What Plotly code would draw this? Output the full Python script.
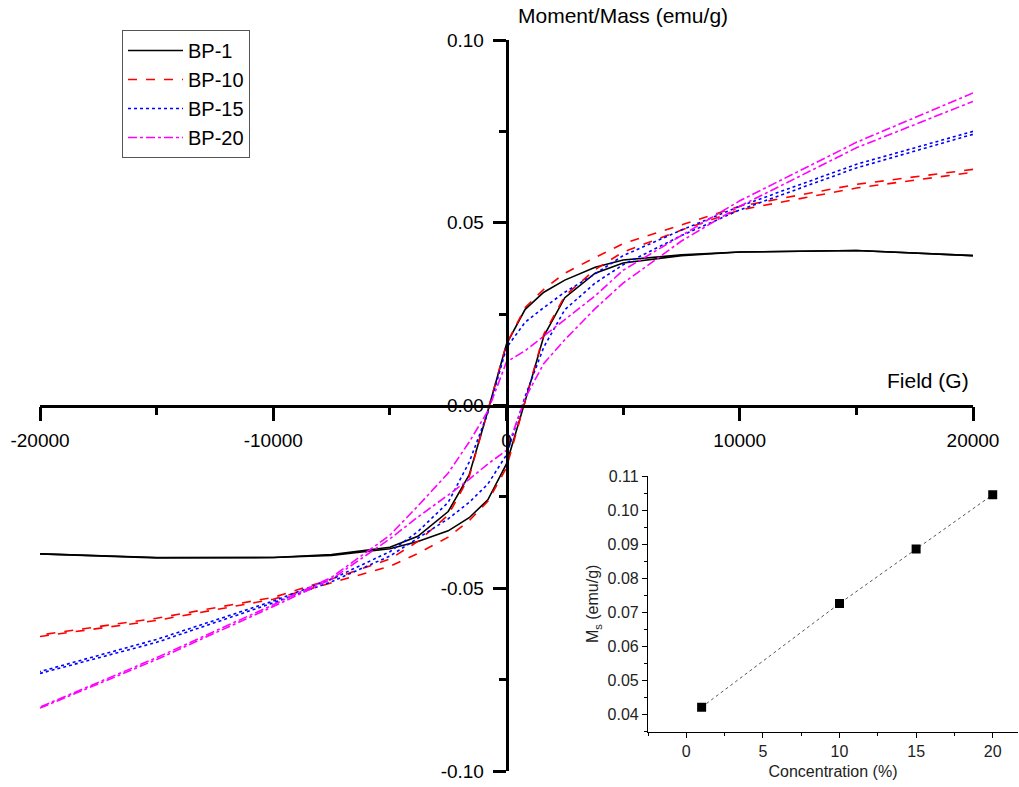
import plotly.graph_objects as go

# ---------------- data ----------------
field_desc = [20000, 15000, 10000, 7500, 5000, 3800, 2500, 1600, 800, 0,
              -800, -1600, -2500, -3800, -5000, -7500, -10000, -15000, -20000]
field_asc = [-20000, -15000, -10000, -7500, -5000, -3800, -2500, -1600, -800, 0,
             800, 1600, 2500, 3800, 5000, 7500, 10000, 15000, 20000]

bp1_desc = [0.0410, 0.0424, 0.0420, 0.0412, 0.0398, 0.0378, 0.0343, 0.0310, 0.0263, 0.0168,
            -0.0015, -0.0190, -0.0290, -0.0358, -0.0388, -0.0408, -0.0416, -0.0417, -0.0406]
bp1_asc = [-0.0406, -0.0416, -0.0416, -0.0410, -0.0392, -0.0372, -0.0343, -0.0307, -0.0258, -0.0160,
           0.0012, 0.0190, 0.0295, 0.0362, 0.0390, 0.0410, 0.0420, 0.0424, 0.0410]

bp10_desc = [0.0646, 0.0605, 0.0545, 0.0495, 0.0443, 0.0405, 0.0362, 0.0318, 0.0268, 0.0168,
             -0.0015, -0.0195, -0.0300, -0.0372, -0.0420, -0.0475, -0.0525, -0.0582, -0.0628]
bp10_asc = [-0.0632, -0.0588, -0.0530, -0.0485, -0.0440, -0.0405, -0.0360, -0.0315, -0.0262, -0.0170,
            0.0012, 0.0195, 0.0300, 0.0372, 0.0420, 0.0480, 0.0535, 0.0595, 0.0638]

bp15_desc = [0.0750, 0.0660, 0.0545, 0.0480, 0.0410, 0.0360, 0.0310, 0.0268, 0.0228, 0.0158,
             -0.0020, -0.0155, -0.0265, -0.0345, -0.0400, -0.0475, -0.0535, -0.0640, -0.0728]
bp15_asc = [-0.0733, -0.0648, -0.0540, -0.0482, -0.0412, -0.0362, -0.0310, -0.0265, -0.0215, -0.0135,
            0.0025, 0.0160, 0.0262, 0.0335, 0.0385, 0.0465, 0.0535, 0.0650, 0.0742]

bp20_desc = [0.0855, 0.0720, 0.0560, 0.0465, 0.0370, 0.0300, 0.0235, 0.0190, 0.0150, 0.0119,
             -0.0015, -0.0100, -0.0185, -0.0275, -0.0355, -0.0470, -0.0545, -0.0690, -0.0825]
bp20_asc = [-0.0828, -0.0695, -0.0550, -0.0475, -0.0365, -0.0305, -0.0245, -0.0202, -0.0160, -0.0123,
            0.0020, 0.0115, 0.0180, 0.0265, 0.0335, 0.0450, 0.0545, 0.0705, 0.0832]

series_names = ["BP-1", "BP-10", "BP-15", "BP-20"]
series_desc = [bp1_desc, bp10_desc, bp15_desc, bp20_desc]
series_asc = [bp1_asc, bp10_asc, bp15_asc, bp20_asc]
series_colors = ["#000000", "#ff0000", "#0000ff", "#ff00ff"]
series_dash = ["solid", "dash", "dot", "dashdot"]

conc = [1, 10, 15, 20]
ms = [0.0420, 0.0725, 0.0885, 0.1045]

main_ytick_vals = [-0.10, -0.05, 0.00, 0.05, 0.10]
main_ytick_text = ["-0.10", "-0.05", "0.00", "0.05", "0.10"]
main_xtick_vals = [-20000, -10000, 0, 10000, 20000]
main_xtick_text = ["-20000", "-10000", "0", "10000", "20000"]
inset_ytick_vals = [0.04, 0.05, 0.06, 0.07, 0.08, 0.09, 0.10, 0.11]
inset_ytick_text = ["0.04", "0.05", "0.06", "0.07", "0.08", "0.09", "0.10", "0.11"]
inset_xtick_vals = [0, 5, 10, 15, 20]

# ---------------- figure ----------------
FONT = "Arial, Liberation Sans, sans-serif"
fig = go.Figure()

for name, d, a, c, ds in zip(series_names, series_desc, series_asc, series_colors, series_dash):
    xs = field_desc + [None] + field_asc
    ys = d + [None] + a
    fig.add_trace(go.Scatter(x=xs, y=ys, mode="lines", name=name,
                             line=dict(color=c, dash=ds, width=1.6),
                             connectgaps=False, xaxis="x", yaxis="y"))

fig.add_trace(go.Scatter(x=conc, y=ms, mode="lines+markers", showlegend=False,
                         line=dict(color="#555555", dash="dot", width=1),
                         marker=dict(symbol="square", size=9, color="black"),
                         xaxis="x2", yaxis="y2"))

W, H = 1019, 787
ml, mr, mt, mb = 40, 0, 40, 16
pw = W - ml - mr
ph = H - mt - mb

def px_x(p):
    return (p - ml) / pw

def px_y(p):
    return (H - mb - p) / ph

fig.update_layout(
    width=W, height=H,
    margin=dict(l=ml, r=mr, t=mt, b=mb, autoexpand=False),
    plot_bgcolor="white", paper_bgcolor="white",
    font=dict(family=FONT, color="black"),
    showlegend=True,
    legend=dict(x=px_x(122), y=px_y(30), xanchor="left", yanchor="top",
                bordercolor="#555555", borderwidth=1, bgcolor="white",
                font=dict(size=20, family=FONT), itemwidth=55,
                tracegroupgap=0),
    xaxis=dict(domain=[0, px_x(973)], range=[-20000, 20000], anchor="free",
               position=0.5, showline=True, linecolor="black", linewidth=2.5,
               showgrid=False, zeroline=False, automargin=False,
               ticks="outside", ticklen=14, tickwidth=2.5, tickcolor="black",
               ticklabelstandoff=3,
               tickvals=main_xtick_vals, ticktext=main_xtick_text,
               tickfont=dict(size=19, family=FONT),
               minor=dict(ticks="outside", dtick=5000, ticklen=8, tickwidth=2.5,
                          tickcolor="black", showgrid=False)),
    yaxis=dict(domain=[0, 1], range=[-0.1, 0.1], anchor="free",
               position=px_x(506.5), showline=True, linecolor="black", linewidth=2.5,
               showgrid=False, zeroline=False, automargin=False,
               ticks="outside", ticklen=13, tickwidth=2.5, tickcolor="black",
               ticklabelstandoff=5,
               tickvals=main_ytick_vals, ticktext=main_ytick_text,
               tickfont=dict(size=19, family=FONT),
               minor=dict(ticks="outside", dtick=0.025, ticklen=7, tickwidth=2.5,
                          tickcolor="black", showgrid=False)),
    xaxis2=dict(domain=[px_x(648), px_x(1018)], range=[-2.5, 21.65], anchor="y2",
                showline=True, linecolor="black", linewidth=1.2,
                showgrid=False, zeroline=False, automargin=False,
                ticks="outside", ticklen=5, tickwidth=1, tickcolor="black",
                tickvals=inset_xtick_vals, tickfont=dict(size=16, family=FONT, color="#222"),
                minor=dict(ticks="outside", dtick=2.5, ticklen=3, tickwidth=1,
                           tickcolor="black", showgrid=False),
                title=dict(text="Concentration (%)", font=dict(size=16, family=FONT, color="#222"),
                           standoff=6)),
    yaxis2=dict(domain=[px_y(731.7), px_y(476)], range=[0.0348, 0.11], anchor="x2",
                showline=True, linecolor="black", linewidth=1.2,
                showgrid=False, zeroline=False, automargin=False,
                ticks="outside", ticklen=5, tickwidth=1, tickcolor="black",
                tickvals=inset_ytick_vals, ticktext=inset_ytick_text,
                tickfont=dict(size=16, family=FONT, color="#222"),
                minor=dict(ticks="outside", dtick=0.005, ticklen=3, tickwidth=1,
                           tickcolor="black", showgrid=False),
                title=dict(text="M<sub>s</sub> (emu/g)", font=dict(size=16, family=FONT, color="#222"),
                           standoff=4)),
    annotations=[
        dict(text="Moment/Mass (emu/g)", xref="paper", yref="paper",
             x=px_x(516), y=px_y(15), xanchor="left", yanchor="middle",
             showarrow=False, font=dict(size=21, family=FONT)),
        dict(text="Field (G)", xref="paper", yref="paper",
             x=px_x(971), y=px_y(380), xanchor="right", yanchor="middle",
             showarrow=False, font=dict(size=21, family=FONT)),
    ],
)

fig.write_html("out.html")
